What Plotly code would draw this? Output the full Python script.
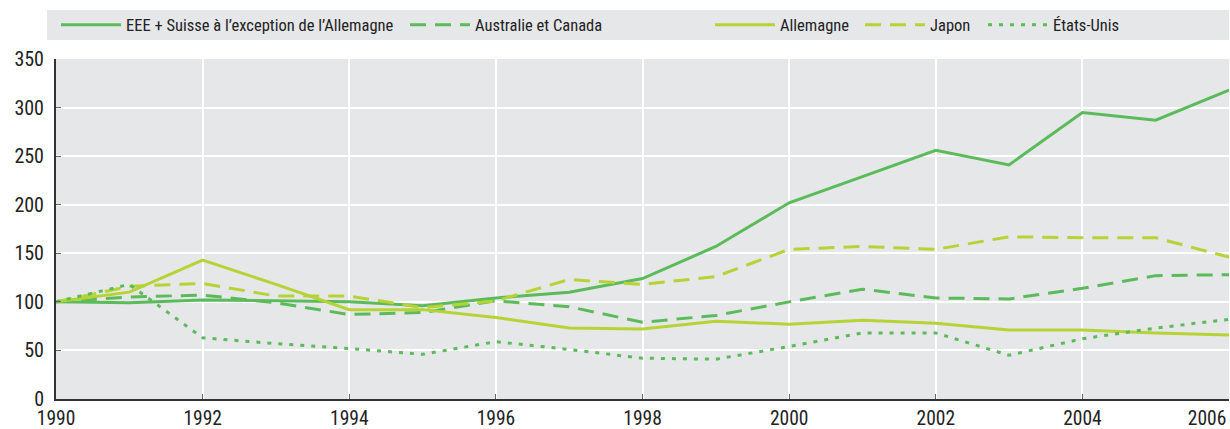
import plotly.graph_objects as go

years = list(range(1990, 2007))
eee = [100, 99, 102, 101, 100, 96, 104, 110, 124, 157, 202, 229, 256, 241, 295, 287, 318]
aus_can = [100, 105, 107, 99, 87, 89, 101, 95, 79, 86, 100, 113, 104, 103, 114, 127, 128]
allemagne = [100, 110, 143, 118, 92, 92, 84, 73, 72, 80, 77, 81, 78, 71, 71, 68, 66]
japon = [100, 116, 119, 106, 106, 94, 101, 123, 118, 126, 154, 157, 154, 167, 166, 166, 146]
usa = [100, 118, 63, 57, 52, 46, 59, 51, 42, 41, 54, 68, 68, 45, 62, 73, 82]

names = ["EEE + Suisse à l’exception de l’Allemagne", "Australie et Canada",
         "Allemagne", "Japon", "États-Unis"]

x_ticks = list(range(1990, 2005, 2))
x_last_tick = [2006]
y_ticks = list(range(0, 351, 50))

GREEN = "#5BBB5B"
LIME = "#B5D334"

W, H = 1230, 429
ML, MR, MT, MB = 56, 1, 59, 30
PW = W - ML - MR
PH = H - MT - MB

font = "Roboto Condensed, Liberation Sans Narrow, Arial Narrow, sans-serif"

# legend entry left positions in pixels
leg_px = [63, 412, 717, 867, 990]

fig = go.Figure()
series = [
    (eee, names[0], GREEN, "solid"),
    (aus_can, names[1], GREEN, "16px,9px"),
    (allemagne, names[2], LIME, "solid"),
    (japon, names[3], LIME, "16px,9px"),
    (usa, names[4], GREEN, "4px,7px"),
]
legend_layout = {}
for i, (vals, name, color, dash) in enumerate(series):
    lid = "legend" if i == 0 else f"legend{i+1}"
    fig.add_trace(go.Scatter(x=years, y=vals, name=name, mode="lines", legend=lid,
                             line=dict(color=color, width=3, dash=dash)))
    legend_layout[lid] = dict(
        orientation="h", xref="paper", x=(leg_px[i] - ML - 7) / PW, xanchor="left",
        yref="container", y=1 - 25 / H, yanchor="middle",
        bgcolor="rgba(0,0,0,0)", font=dict(size=16.5, family=font, color="#222222"),
        itemwidth=60, borderwidth=0,
    )

# invisible helper trace carrying the last x tick label on an overlaid axis
fig.add_trace(go.Scatter(x=[years[-1]], y=[None], xaxis="x2", showlegend=False,
                         hoverinfo="skip", mode="lines"))

fig.add_hline(y=100, line=dict(color="#000000", width=1.2), layer="below")

# legend background band
fig.add_shape(type="rect", xref="paper", yref="paper", x0=(47 - ML) / PW, x1=1.0,
              y0=(H - MB - 40) / PH, y1=(H - MB - 10) / PH,
              fillcolor="#E6E7E9", line=dict(width=0), layer="below")

axis_common = dict(showgrid=True, gridcolor="white", gridwidth=2,
                   showline=True, linecolor="#333333", linewidth=2,
                   ticks="inside", ticklen=5, tickcolor="#666666", zeroline=False)

fig.update_layout(
    width=W, height=H,
    margin=dict(l=ML, r=MR, t=MT, b=MB, autoexpand=False),
    paper_bgcolor="white", plot_bgcolor="#E6E7E9",
    font=dict(family=font, size=20, color="#222222"),
    showlegend=True,
    xaxis=dict(range=[1990, 2006], tickmode="array", tickvals=x_ticks + x_last_tick,
               ticktext=[str(v) for v in x_ticks] + [""],
               ticklabeloverflow="allow", ticklabelstandoff=1,
               tickfont=dict(size=19.5, color="#222222"), **axis_common),
    xaxis2=dict(range=[1990, 2006], overlaying="x", side="bottom", tickmode="array",
                tickvals=x_last_tick, showgrid=False, showline=False, ticks="",
                zeroline=False, ticklabelshift=-22, ticklabelstandoff=5,
                ticklabeloverflow="allow", tickfont=dict(size=19.5, color="#222222")),
    yaxis=dict(range=[0, 350], tickmode="array", tickvals=y_ticks,
               ticklabelstandoff=6, tickfont=dict(size=20, color="#222222"), **axis_common),
    **legend_layout,
)

fig.write_html("out.html", config={"displayModeBar": False},
               post_script="document.body.style.margin='0';document.body.style.overflow='hidden';")
